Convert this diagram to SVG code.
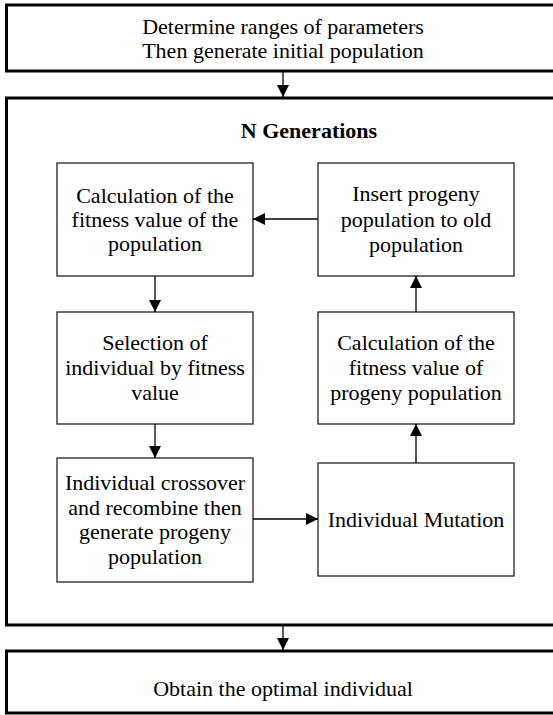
<svg xmlns="http://www.w3.org/2000/svg" width="553" height="715" viewBox="0 0 553 715">
<style>
.outer{fill:#fff;stroke:#000;stroke-width:3}
.box{fill:#fff;stroke:#222;stroke-width:1.3}
.t{font-family:"Liberation Serif","Times New Roman",serif;font-size:22px;fill:#000;text-anchor:middle}
.b{font-weight:bold}
.c{stroke:#000;stroke-width:1.3;fill:none}
</style>
<defs>
<marker id="ah" markerWidth="12" markerHeight="12" refX="12" refY="6" orient="auto" markerUnits="userSpaceOnUse">
<path d="M0,0 L12,6 L0,12 Z" fill="#000"/>
</marker>
</defs>
<rect width="553" height="715" fill="#fff"/>
<g id="start">
<rect class="outer" x="6.5" y="5" width="560" height="66"/>
<text class="t" x="283" y="34">Determine ranges of parameters</text>
<text class="t" x="283" y="58">Then generate initial population</text>
</g>
<g id="loop">
<rect class="outer" x="6.5" y="98" width="560" height="527"/>
<text class="t b" x="309" y="138">N Generations</text>
</g>
<g id="fit">
<rect class="box" x="57" y="163" width="196" height="113"/>
<text class="t" x="155" y="203">Calculation of the</text>
<text class="t" x="155" y="227">fitness value of the</text>
<text class="t" x="155" y="251">population</text>
</g>
<g id="select">
<rect class="box" x="57" y="312" width="196" height="112"/>
<text class="t" x="155" y="350">Selection of</text>
<text class="t" x="155" y="375">individual by fitness</text>
<text class="t" x="155" y="400">value</text>
</g>
<g id="cross">
<rect class="box" x="57" y="458" width="196" height="124"/>
<text class="t" x="155" y="490">Individual crossover</text>
<text class="t" x="155" y="515">and recombine then</text>
<text class="t" x="155" y="539">generate progeny</text>
<text class="t" x="155" y="564">population</text>
</g>
<g id="insert">
<rect class="box" x="318" y="163" width="196" height="113"/>
<text class="t" x="416" y="201">Insert progeny</text>
<text class="t" x="416" y="227">population to old</text>
<text class="t" x="416" y="252">population</text>
</g>
<g id="progfit">
<rect class="box" x="318" y="312" width="196" height="112"/>
<text class="t" x="416" y="350">Calculation of the</text>
<text class="t" x="416" y="375">fitness value of</text>
<text class="t" x="416" y="400">progeny population</text>
</g>
<g id="mutation">
<rect class="box" x="318" y="463" width="196" height="113"/>
<text class="t" x="416" y="527">Individual Mutation</text>
</g>
<g id="end">
<rect class="outer" x="6.5" y="651" width="560" height="62"/>
<text class="t" x="283" y="696">Obtain the optimal individual</text>
</g>
<g id="connectors">
<line class="c" x1="283" y1="71" x2="283" y2="97" marker-end="url(#ah)"/>
<line class="c" x1="155" y1="276" x2="155" y2="312" marker-end="url(#ah)"/>
<line class="c" x1="155" y1="424" x2="155" y2="458" marker-end="url(#ah)"/>
<line class="c" x1="253" y1="519" x2="318" y2="519" marker-end="url(#ah)"/>
<line class="c" x1="416" y1="463" x2="416" y2="424" marker-end="url(#ah)"/>
<line class="c" x1="416" y1="312" x2="416" y2="276" marker-end="url(#ah)"/>
<line class="c" x1="318" y1="219" x2="253" y2="219" marker-end="url(#ah)"/>
<line class="c" x1="283" y1="625" x2="283" y2="650" marker-end="url(#ah)"/>
</g>
</svg>
